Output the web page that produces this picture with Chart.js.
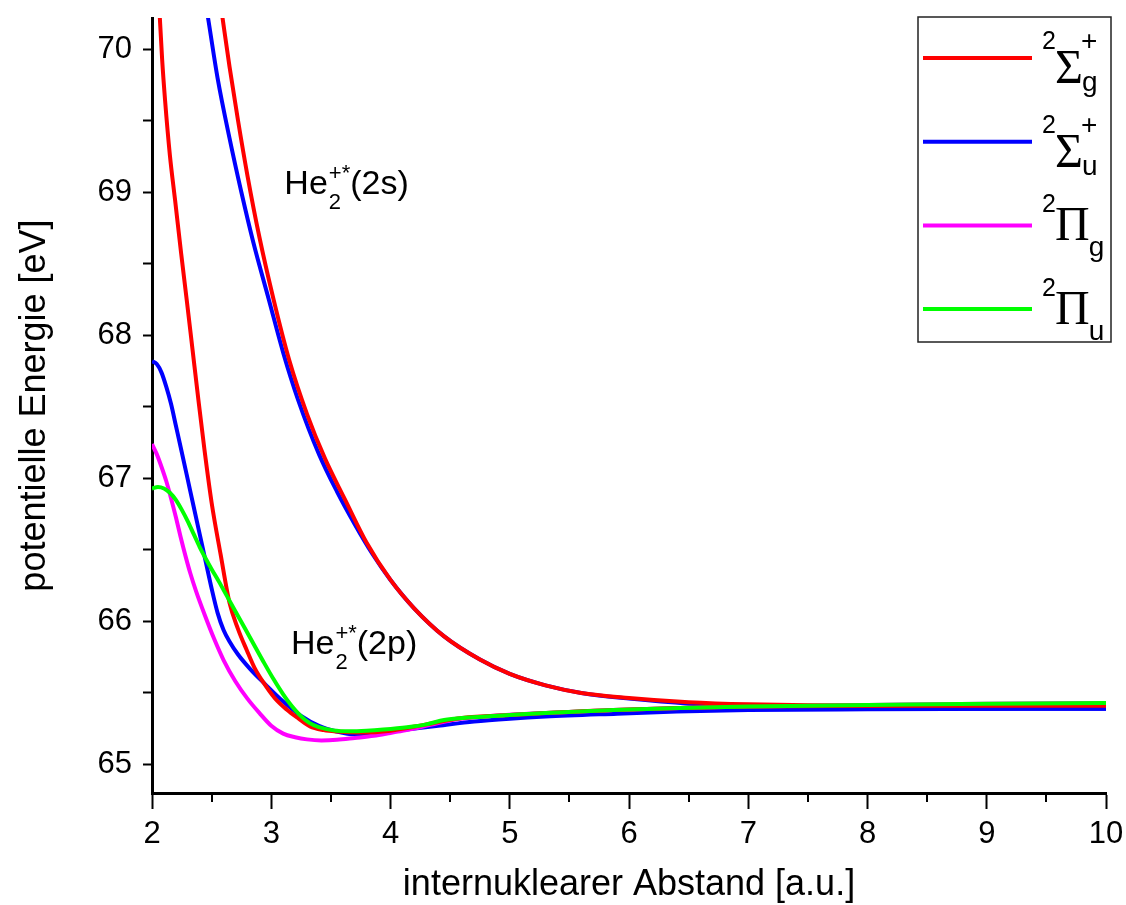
<!DOCTYPE html>
<html>
<head>
<meta charset="utf-8">
<script src="https://cdn.jsdelivr.net/npm/chart.js@4.4.0/dist/chart.umd.min.js"></script>
<style>
  html, body { margin: 0; padding: 0; background: #fff; }
</style>
</head>
<body>
<canvas id="potChart" width="1126" height="905"></canvas>
<script>
// internuclear distance [a.u.] and potential energy [eV]

// 2Σg+ (2s)
const sgOuterX = [2.585, 2.60, 2.65, 2.72, 2.80, 2.90, 3.02, 3.15, 3.30, 3.45, 3.62, 3.80, 4.00, 4.20, 4.45, 4.75, 5.00, 5.30, 5.60, 6.00, 6.50, 7.00, 8.00, 9.00, 10];
const sgOuterY = [70.26, 70.17, 69.88, 69.51, 69.12, 68.69, 68.25, 67.83, 67.45, 67.14, 66.85, 66.55, 66.29, 66.09, 65.895, 65.733, 65.633, 65.553, 65.50, 65.465, 65.435, 65.42, 65.41, 65.41, 65.41];
// 2Σu+ (2s)
const suOuterX = [2.46, 2.47, 2.55, 2.65, 2.75, 2.85, 2.98, 3.10, 3.225, 3.40, 3.55, 3.70, 3.85, 4.00, 4.20, 4.45, 4.75, 5.00, 5.30, 5.60, 6.00, 6.50, 7.00, 8.00, 9.00, 10];
const suOuterY = [70.27, 70.22, 69.80, 69.38, 69.00, 68.65, 68.25, 67.88, 67.55, 67.17, 66.91, 66.68, 66.47, 66.29, 66.09, 65.895, 65.733, 65.633, 65.553, 65.50, 65.46, 65.425, 65.41, 65.40, 65.39, 65.39];
// 2Σg+ (2p)
const sgInnerX = [2.060, 2.085, 2.110, 2.150, 2.193, 2.245, 2.291, 2.340, 2.389, 2.440, 2.500, 2.575, 2.650, 2.720, 2.794, 2.860, 2.934, 3.030, 3.129, 3.230, 3.325, 3.440, 3.550, 3.750, 4.000, 4.300, 4.600, 5.000, 5.870, 7.000, 8.000, 10];
const sgInnerY = [70.31, 69.93, 69.64, 69.26, 68.95, 68.57, 68.25, 67.90, 67.55, 67.20, 66.83, 66.47, 66.13, 65.95, 65.80, 65.675, 65.573, 65.463, 65.384, 65.32, 65.265, 65.24, 65.23, 65.223, 65.236, 65.28, 65.325, 65.345, 65.38, 65.405, 65.41, 65.42];
// 2Σu+ (2p)
const suInnerX = [2.00, 2.04, 2.08, 2.12, 2.16, 2.20, 2.24, 2.29, 2.35, 2.40, 2.45, 2.50, 2.55, 2.60, 2.65, 2.72, 2.82, 2.95, 3.10, 3.25, 3.40, 3.55, 3.70, 3.85, 4.00, 4.15, 4.40, 4.70, 5.00, 5.30, 5.90, 6.40, 7.00, 8.00, 10];
const suInnerY = [67.82, 67.80, 67.74, 67.64, 67.52, 67.37, 67.22, 67.03, 66.80, 66.61, 66.42, 66.23, 66.06, 65.94, 65.86, 65.77, 65.67, 65.56, 65.44, 65.34, 65.27, 65.23, 65.21, 65.215, 65.23, 65.245, 65.27, 65.30, 65.32, 65.335, 65.355, 65.37, 65.38, 65.385, 65.39];
// 2Πg
const pgX = [2.00, 2.04, 2.08, 2.12, 2.16, 2.20, 2.24, 2.28, 2.32, 2.37, 2.44, 2.52, 2.60, 2.70, 2.80, 2.90, 3.00, 3.10, 3.20, 3.30, 3.42, 3.55, 3.70, 3.86, 4.00, 4.10, 4.25, 4.40, 4.56, 4.80, 5.30, 5.87, 6.43, 7.00, 8.00, 9.00, 10];
const pgY = [67.24, 67.17, 67.08, 66.98, 66.86, 66.73, 66.59, 66.46, 66.34, 66.21, 66.05, 65.88, 65.73, 65.58, 65.46, 65.36, 65.27, 65.215, 65.19, 65.175, 65.168, 65.172, 65.185, 65.20, 65.22, 65.235, 65.26, 65.29, 65.315, 65.335, 65.36, 65.38, 65.395, 65.405, 65.415, 65.425, 65.43];
// 2Πu
const puX = [2.00, 2.05, 2.10, 2.15, 2.20, 2.25, 2.30, 2.35, 2.40, 2.45, 2.50, 2.56, 2.63, 2.70, 2.78, 2.86, 2.94, 3.02, 3.10, 3.17, 3.24, 3.32, 3.40, 3.52, 3.66, 3.80, 3.94, 4.14, 4.30, 4.45, 4.60, 4.80, 5.00, 5.30, 5.87, 6.43, 7.00, 8.00, 9.00, 10];
const puY = [66.93, 66.94, 66.93, 66.90, 66.85, 66.78, 66.70, 66.61, 66.52, 66.44, 66.365, 66.28, 66.175, 66.07, 65.95, 65.83, 65.71, 65.595, 65.49, 65.41, 65.345, 65.29, 65.26, 65.238, 65.232, 65.236, 65.244, 65.26, 65.28, 65.31, 65.325, 65.335, 65.345, 65.36, 65.38, 65.395, 65.405, 65.415, 65.425, 65.43];

const xTicks = [2, 3, 4, 5, 6, 7, 8, 9, 10];
const yTicks = [65, 66, 67, 68, 69, 70];

const legendItems = [
  { color: '#ff0000', sym: 'Σ', sup: '+', sub: 'g' },
  { color: '#0000ff', sym: 'Σ', sup: '+', sub: 'u' },
  { color: '#ff00ff', sym: 'Π', sup: '', sub: 'g' },
  { color: '#00ff00', sym: 'Π', sup: '', sub: 'u' }
];
const stateLabels = [
  { state: '2s', x: 3.11, y: 68.99 },
  { state: '2p', x: 3.165, y: 65.77 }
];

const SANS = '"Liberation Sans", Arial, sans-serif';
const SERIF = '"Liberation Serif", "Times New Roman", serif';

function pts(xs, ys) {
  return xs.map((x, i) => ({ x: x, y: ys[i] }));
}
function isInt(v) {
  return Math.abs(v - Math.round(v)) < 1e-6;
}

function curve(xs, ys, color) {
  return {
    data: pts(xs, ys),
    borderColor: color,
    backgroundColor: color,
    borderWidth: 4,
    pointRadius: 0,
    cubicInterpolationMode: 'monotone',
    fill: false
  };
}

// minor ticks, legend box and the He2 labels
const extras = {
  id: 'extras',
  afterDraw(chart) {
    const ctx = chart.ctx;
    const xs = chart.scales.x, ys = chart.scales.y;
    const area = chart.chartArea;
    ctx.save();

    ctx.strokeStyle = '#000';
    ctx.lineWidth = 2;
    for (let v = xs.min + 0.5; v < xs.max; v += 1) {
      const px = Math.round(xs.getPixelForValue(v));
      ctx.beginPath();
      ctx.moveTo(px, area.bottom);
      ctx.lineTo(px, area.bottom + 9);
      ctx.stroke();
    }

    // state labels
    ctx.fillStyle = '#000';
    ctx.textAlign = 'left';
    ctx.textBaseline = 'alphabetic';
    stateLabels.forEach(l => {
      const x = xs.getPixelForValue(l.x);
      const y = ys.getPixelForValue(l.y);
      ctx.font = '34px ' + SANS;
      ctx.fillText('He', x, y);
      const w = ctx.measureText('He').width;
      ctx.font = '22px ' + SANS;
      ctx.fillText('2', x + w + 1, y + 15);
      ctx.fillText('+*', x + w + 1, y - 14);
      const w2 = ctx.measureText('+*').width;
      ctx.font = '34px ' + SANS;
      ctx.fillText('(' + l.state + ')', x + w + w2 + 1, y);
    });

    // legend
    const bx = 918, by = 17, bw = 193, bh = 325;
    ctx.lineWidth = 1.5;
    ctx.strokeStyle = '#222';
    ctx.strokeRect(bx, by, bw, bh);
    legendItems.forEach((it, i) => {
      const ly = 58 + i * 83.7;
      ctx.strokeStyle = it.color;
      ctx.lineWidth = 4;
      ctx.beginPath();
      ctx.moveTo(923, ly);
      ctx.lineTo(1032, ly);
      ctx.stroke();

      const sigma = it.sym === 'Σ';
      const symBase = ly + (sigma ? 25 : 15);
      const supBase = ly + (sigma ? -9 : -13);
      const subBase = ly + (sigma ? 33 : 31);
      ctx.fillStyle = '#000';
      ctx.font = '25px ' + SANS;
      ctx.fillText('2', 1042, supBase);
      ctx.font = '48px ' + SERIF;
      ctx.fillText(it.sym, 1055, symBase);
      const sw = ctx.measureText(it.sym).width;
      ctx.font = '28px ' + SANS;
      if (it.sup) ctx.fillText(it.sup, 1053 + sw, supBase + 1);
      ctx.fillText(it.sub, 1054 + sw, subBase);
    });
    ctx.restore();
  }
};

const ctx = document.getElementById('potChart').getContext('2d');
new Chart(ctx, {
  type: 'line',
  data: {
    datasets: [
      curve(puX, puY, '#00ff00'),
      curve(sgInnerX, sgInnerY, '#ff0000'),
      curve(sgOuterX, sgOuterY, '#ff0000'),
      curve(pgX, pgY, '#ff00ff'),
      curve(suInnerX, suInnerY, '#0000ff'),
      curve(suOuterX, suOuterY, '#0000ff')
    ]
  },
  options: {
    responsive: false,
    animation: false,
    layout: { padding: { top: 18, right: 20, left: 0, bottom: 0 } },
    plugins: {
      legend: { display: false },
      tooltip: { enabled: false }
    },
    scales: {
      x: {
        type: 'linear',
        min: 2,
        max: 10,
        afterFit: s => { s.height = 112; s.paddingLeft = 0; s.paddingRight = 0; },
        border: { display: true, color: '#000', width: 3 },
        grid: {
          drawOnChartArea: false,
          drawTicks: true,
          tickLength: 16,
          tickWidth: 2,
          tickColor: c => (c.tick && isInt(c.tick.value) ? '#000' : 'rgba(0,0,0,0)')
        },
        ticks: {
          stepSize: 0.5,
          autoSkip: false,
          maxRotation: 0,
          padding: 7,
          color: '#000',
          font: { family: SANS, size: 31 },
          callback: v => (xTicks.includes(v) ? String(v) : '')
        },
        title: {
          display: true,
          text: 'internuklearer Abstand [a.u.]',
          color: '#000',
          font: { family: SANS, size: 36, lineHeight: 1 },
          padding: { top: 0, bottom: 2 }
        }
      },
      y: {
        type: 'linear',
        min: 64.8,
        max: 70.22,
        afterFit: s => { s.width = 152; s.paddingTop = 0; s.paddingBottom = 0; },
        border: { display: true, color: '#000', width: 3 },
        grid: {
          drawOnChartArea: false,
          drawTicks: true,
          tickLength: 9,
          tickWidth: 2,
          tickColor: '#000'
        },
        ticks: {
          stepSize: 0.5,
          includeBounds: false,
          autoSkip: false,
          padding: 11,
          color: '#000',
          font: { family: SANS, size: 31 },
          callback: v => (yTicks.includes(v) ? String(v) : '')
        },
        title: {
          display: true,
          text: 'potentielle Energie [eV]',
          color: '#000',
          font: { family: SANS, size: 36, lineHeight: 1 },
          padding: { top: 17, bottom: 0 }
        }
      }
    }
  },
  plugins: [extras]
});
</script>
</body>
</html>
